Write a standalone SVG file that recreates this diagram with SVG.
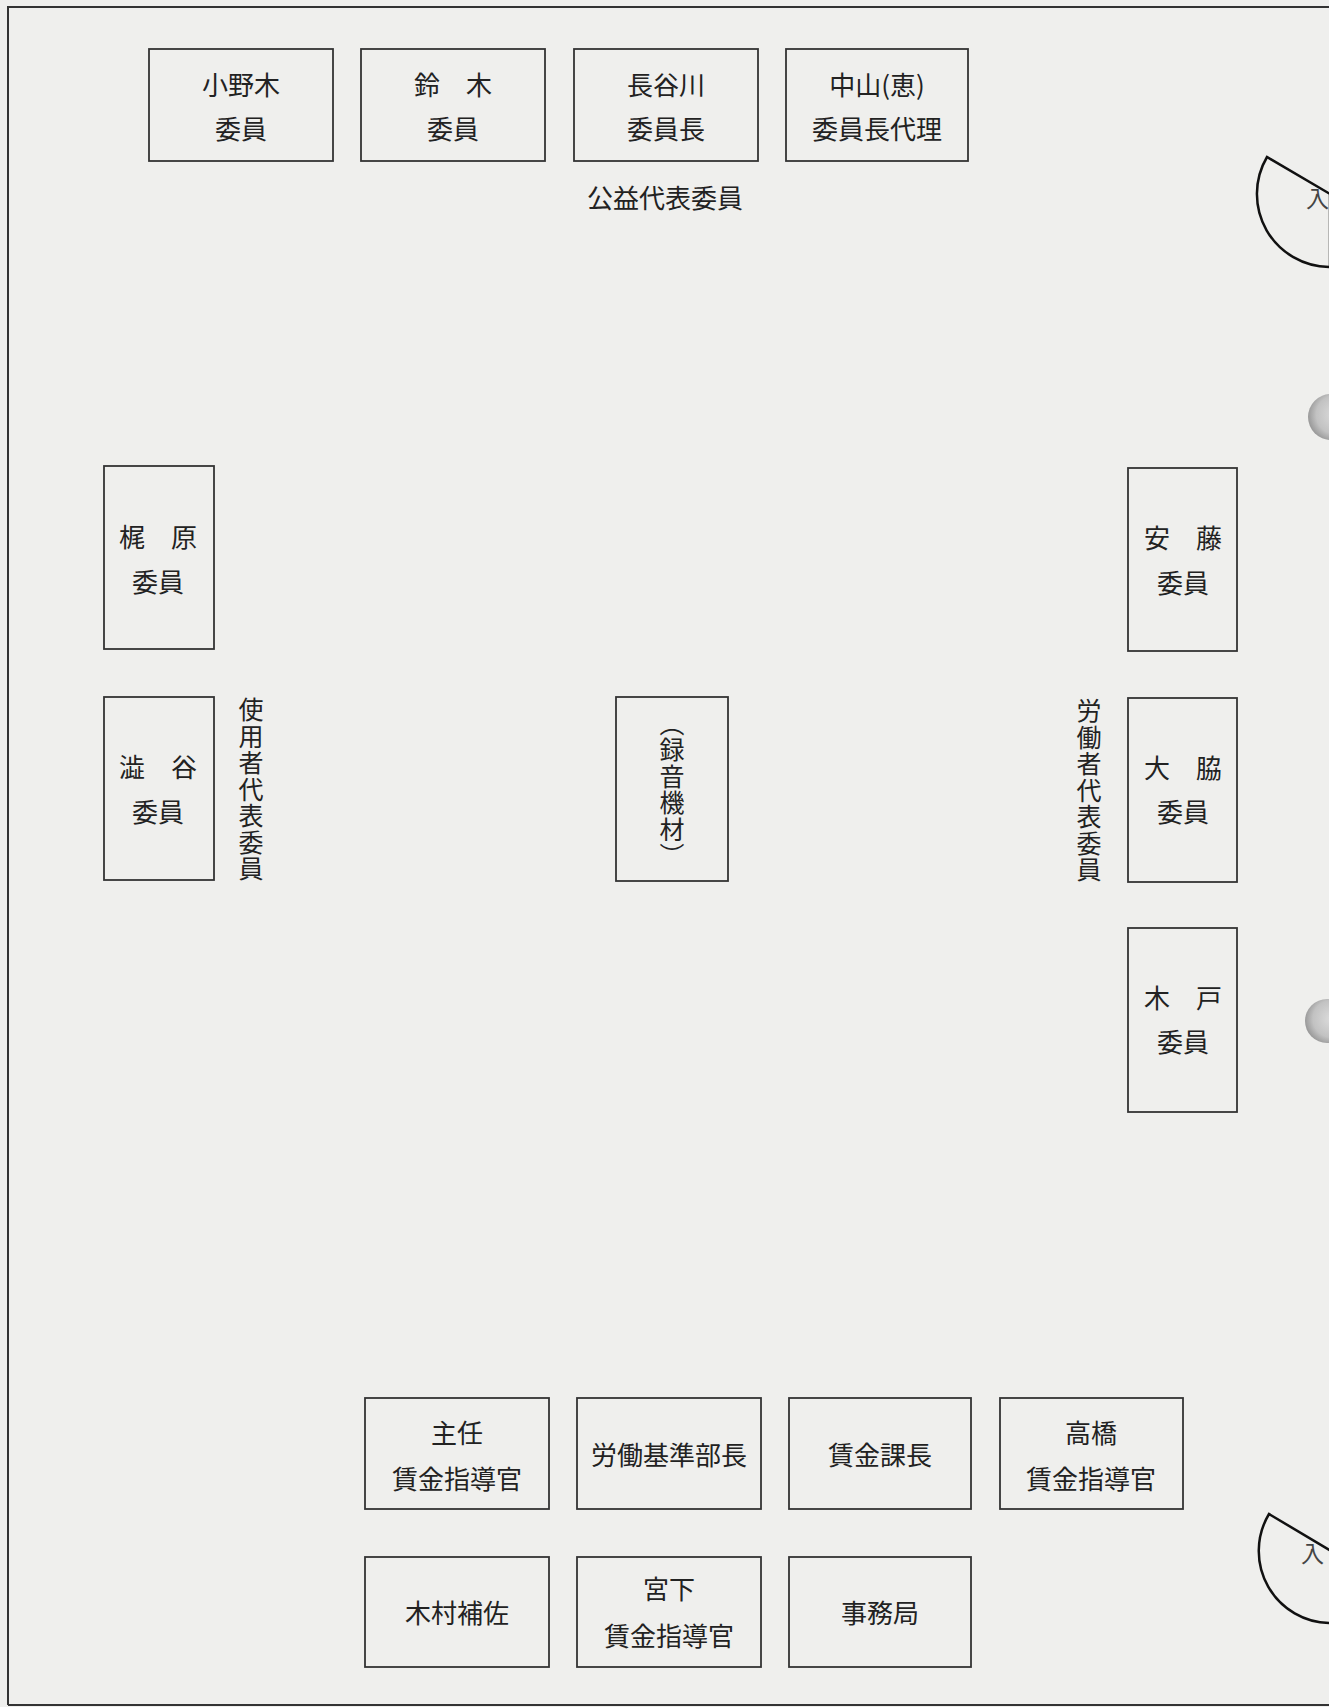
<svg xmlns="http://www.w3.org/2000/svg" width="1329" height="1707" viewBox="0 0 1329 1707">
<style>
.bg{fill:#efefed}
.box{fill:none;stroke:#333;stroke-width:1.8}
.t{font-family:"Noto Sans CJK JP","Noto Sans CJK SC",sans-serif;font-size:26px;fill:#222;text-anchor:middle;dominant-baseline:central}
.v{font-family:"Noto Sans CJK JP","Noto Sans CJK SC",sans-serif;font-size:25px;fill:#222;text-anchor:middle;writing-mode:vertical-rl;letter-spacing:1.5px}
.frame{fill:none;stroke:#333;stroke-width:2}
.door{fill:none;stroke:#111;stroke-width:2.5}
.dt{font-family:"Noto Sans CJK JP","Noto Sans CJK SC",sans-serif;font-size:23px;fill:#444;dominant-baseline:central}
</style>
<defs>
<radialGradient id="hole" cx="0.6" cy="0.45" r="0.6">
<stop offset="0" stop-color="#dcdcdc"/>
<stop offset="0.7" stop-color="#c2c2c2"/>
<stop offset="1" stop-color="#9a9a9a"/>
</radialGradient>
</defs>
<rect class="bg" x="0" y="0" width="1329" height="1707"/>
<g id="frame">
<path class="frame" d="M8,1705 L8,7 L1329,7"/>
<path class="frame" d="M8,1705 L1329,1705"/>
</g>
<g id="doors">
<path class="door" d="M1330,194 L1267,157 A73,73 0 0 0 1330,267 Z"/>
<text class="dt" x="1306" y="197">入</text>
<path class="door" d="M1331,1551 L1269,1514 A72,72 0 0 0 1331,1623 Z"/>
<text class="dt" x="1301" y="1552">入</text>
</g>
<g id="holes">
<circle cx="1331" cy="417" r="23" fill="url(#hole)"/>
<circle cx="1327" cy="1021" r="22" fill="url(#hole)"/>
</g>
<g id="connectors"></g>
<g id="n-onoki"><rect class="box" x="149" y="49" width="184" height="112"/><text class="t" x="241" y="83">小野木</text><text class="t" x="241" y="127">委員</text></g>
<g id="n-suzuki"><rect class="box" x="361" y="49" width="184" height="112"/><text class="t" x="453" y="83">鈴　木</text><text class="t" x="453" y="127">委員</text></g>
<g id="n-hasegawa"><rect class="box" x="574" y="49" width="184" height="112"/><text class="t" x="666" y="83">長谷川</text><text class="t" x="666" y="127">委員長</text></g>
<g id="n-nakayama"><rect class="box" x="786" y="49" width="182" height="112"/><text class="t" x="877" y="83">中山(恵)</text><text class="t" x="877" y="127">委員長代理</text></g>
<g id="l-koueki"><text class="t" x="665" y="196">公益代表委員</text></g>
<g id="n-kajiwara"><rect class="box" x="104" y="466" width="110" height="183"/><text class="t" x="158" y="535">梶　原</text><text class="t" x="158" y="580">委員</text></g>
<g id="n-shibuya"><rect class="box" x="104" y="697" width="110" height="183"/><text class="t" x="158" y="765">澁　谷</text><text class="t" x="158" y="810">委員</text></g>
<g id="l-shiyousha"><text class="v" x="251" y="790">使用者代表委員</text></g>
<g id="n-rokuon"><rect class="box" x="616" y="697" width="112" height="184"/><text class="v" x="672" y="790">（録音機材）</text></g>
<g id="l-roudousha"><text class="v" x="1089" y="791">労働者代表委員</text></g>
<g id="n-ando"><rect class="box" x="1128" y="468" width="109" height="183"/><text class="t" x="1183" y="536">安　藤</text><text class="t" x="1183" y="581">委員</text></g>
<g id="n-owaki"><rect class="box" x="1128" y="698" width="109" height="184"/><text class="t" x="1183" y="766">大　脇</text><text class="t" x="1183" y="810">委員</text></g>
<g id="n-kido"><rect class="box" x="1128" y="928" width="109" height="184"/><text class="t" x="1183" y="996">木　戸</text><text class="t" x="1183" y="1040">委員</text></g>
<g id="n-shunin"><rect class="box" x="365" y="1398" width="184" height="111"/><text class="t" x="457" y="1431">主任</text><text class="t" x="457" y="1477">賃金指導官</text></g>
<g id="n-buchou"><rect class="box" x="577" y="1398" width="184" height="111"/><text class="t" x="669" y="1453">労働基準部長</text></g>
<g id="n-kachou"><rect class="box" x="789" y="1398" width="182" height="111"/><text class="t" x="880" y="1453">賃金課長</text></g>
<g id="n-takahashi"><rect class="box" x="1000" y="1398" width="183" height="111"/><text class="t" x="1091" y="1431">高橋</text><text class="t" x="1091" y="1477">賃金指導官</text></g>
<g id="n-kimura"><rect class="box" x="365" y="1557" width="184" height="110"/><text class="t" x="457" y="1611">木村補佐</text></g>
<g id="n-miyashita"><rect class="box" x="577" y="1557" width="184" height="110"/><text class="t" x="669" y="1587">宮下</text><text class="t" x="669" y="1634">賃金指導官</text></g>
<g id="n-jimukyoku"><rect class="box" x="789" y="1557" width="182" height="110"/><text class="t" x="880" y="1611">事務局</text></g>
</svg>
